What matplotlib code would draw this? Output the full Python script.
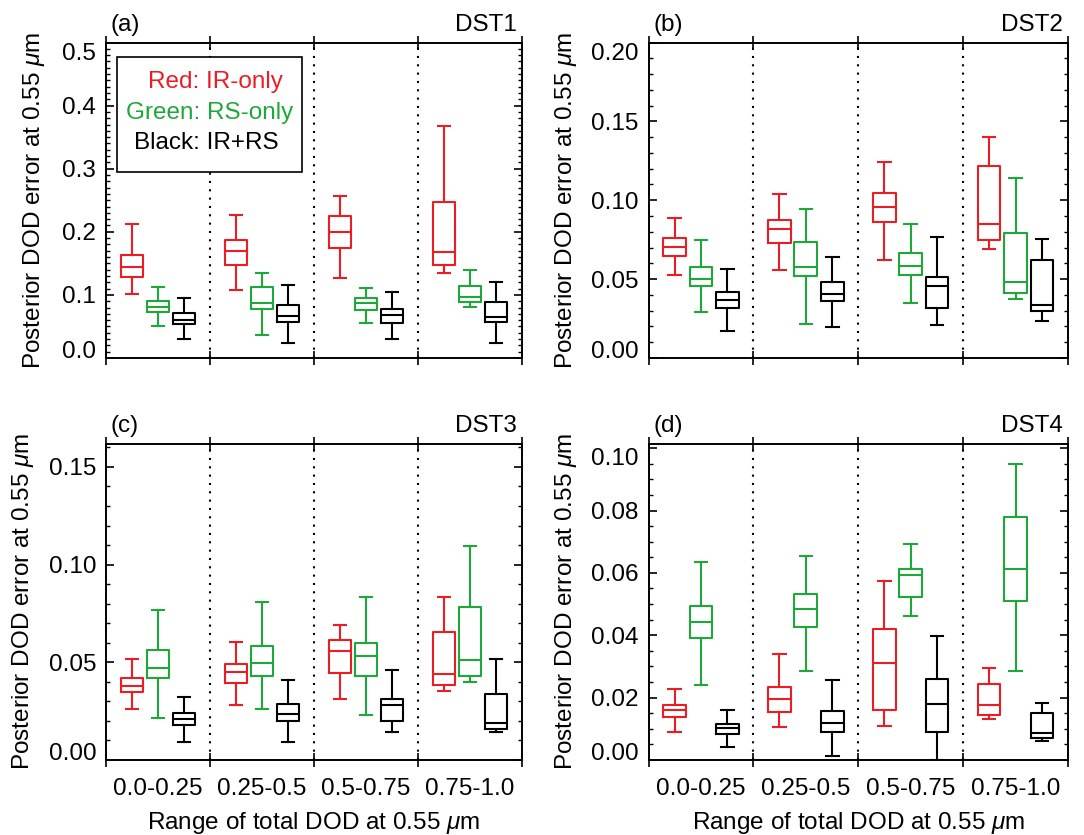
import numpy as np
import matplotlib
matplotlib.use('Agg')
import matplotlib.pyplot as plt
from matplotlib.patches import Rectangle
from matplotlib.ticker import MultipleLocator

plt.rcParams['font.family'] = ['Liberation Sans', 'DejaVu Sans']
plt.rcParams['mathtext.fontset'] = 'custom'
plt.rcParams['mathtext.rm'] = 'Liberation Sans'
plt.rcParams['mathtext.it'] = 'Liberation Sans:italic'

# bins of total DOD
binLabels = ['0.0-0.25', '0.25-0.5', '0.5-0.75', '0.75-1.0']

# each row is one bin: [whisker low, q1, median, q3, whisker high]
dst1_ir = [[0.102, 0.129, 0.144, 0.164, 0.212], [0.107, 0.148, 0.170, 0.187, 0.226],
           [0.126, 0.174, 0.200, 0.225, 0.256], [0.134, 0.147, 0.168, 0.248, 0.367]]
dst1_rs = [[0.051, 0.073, 0.081, 0.090, 0.113], [0.036, 0.078, 0.087, 0.113, 0.135],
           [0.055, 0.076, 0.087, 0.095, 0.111], [0.081, 0.088, 0.097, 0.114, 0.140]]
dst1_irrs = [[0.030, 0.054, 0.061, 0.071, 0.095], [0.023, 0.057, 0.0665, 0.0835, 0.115],
             [0.030, 0.055, 0.068, 0.077, 0.105], [0.023, 0.057, 0.065, 0.088, 0.120]]

dst2_ir = [[0.0523, 0.0646, 0.0703, 0.0762, 0.0886], [0.0555, 0.0732, 0.0819, 0.0876, 0.104],
           [0.0622, 0.0865, 0.0956, 0.1044, 0.1245], [0.069, 0.0747, 0.085, 0.1217, 0.140]]
dst2_rs = [[0.0293, 0.0458, 0.050, 0.0578, 0.0751], [0.0217, 0.0519, 0.058, 0.0736, 0.0945],
           [0.0346, 0.0527, 0.0586, 0.0665, 0.085], [0.0373, 0.0411, 0.0479, 0.0795, 0.114]]
dst2_irrs = [[0.0171, 0.0316, 0.0367, 0.0418, 0.0565], [0.0194, 0.0363, 0.0407, 0.0479, 0.0639],
             [0.0207, 0.0316, 0.0454, 0.0515, 0.0766], [0.0236, 0.0295, 0.0335, 0.062, 0.0753]]

dst3_ir = [[0.0261, 0.0346, 0.0381, 0.0419, 0.0517], [0.028, 0.0393, 0.0451, 0.049, 0.0605],
           [0.0312, 0.0447, 0.0556, 0.0612, 0.0692], [0.0354, 0.0383, 0.0442, 0.0654, 0.0834]]
dst3_rs = [[0.0214, 0.042, 0.0469, 0.0563, 0.0768], [0.0263, 0.0429, 0.0495, 0.0585, 0.081],
           [0.023, 0.0429, 0.0534, 0.060, 0.0834], [0.0398, 0.0432, 0.0512, 0.0785, 0.1093]]
dst3_irrs = [[0.0093, 0.0178, 0.021, 0.0239, 0.0324], [0.0093, 0.0202, 0.0237, 0.0288, 0.041],
             [0.0142, 0.020, 0.028, 0.0312, 0.0463], [0.0141, 0.0161, 0.0188, 0.0336, 0.0517]]

dst4_ir = [[0.0089, 0.0139, 0.0159, 0.0176, 0.0227], [0.0107, 0.0155, 0.0196, 0.0235, 0.0341],
           [0.0108, 0.016, 0.031, 0.042, 0.0574], [0.0132, 0.0144, 0.0175, 0.0245, 0.0295]]
dst4_rs = [[0.024, 0.039, 0.0442, 0.0494, 0.0636], [0.0286, 0.0425, 0.0484, 0.0532, 0.0655],
           [0.0462, 0.0523, 0.0593, 0.0611, 0.0692], [0.0286, 0.0509, 0.0611, 0.078, 0.095]]
dst4_irrs = [[0.0042, 0.0084, 0.0103, 0.0117, 0.0159], [0.0012, 0.009, 0.0119, 0.0157, 0.0256],
             [0.0, 0.009, 0.0181, 0.0259, 0.0399], [0.006, 0.007, 0.0088, 0.015, 0.0184]]

panelNames = ['DST1', 'DST2', 'DST3', 'DST4']
panelTags = ['(a)', '(b)', '(c)', '(d)']
panelData = [(dst1_ir, dst1_rs, dst1_irrs), (dst2_ir, dst2_rs, dst2_irrs),
             (dst3_ir, dst3_rs, dst3_irrs), (dst4_ir, dst4_rs, dst4_irrs)]
yTops = [0.5, 0.2, 0.162, 0.1015]
yMajor = [0.1, 0.05, 0.05, 0.02]
yMinor = [0.01, 0.01, 0.01, 0.005]
yFormat = ['%.1f', '%.2f', '%.2f', '%.2f']

RED = '#ec1c24'
GREEN = '#1fa83a'
colors = [RED, GREEN, 'black']
offsets = [-0.063, 0.0, 0.063]

W, H = 1084, 835
# axes boxes in pixels: left, right, top, bottom
boxes = [(106, 522, 42.5, 358), (648.5, 1068, 42.5, 358),
         (106, 522, 443.5, 760), (648.5, 1068, 443.5, 760)]
labelX = [-0.142, -0.165, -0.168, -0.165]

fig = plt.figure(figsize=(W / 100, H / 100), dpi=100)
FS = 17.5

for i in range(4):
    l, r, t, b = boxes[i]
    ax = fig.add_axes([l / W, 1 - b / H, (r - l) / W, (b - t) / H])

    # boxes for each retrieval type
    for k in range(3):
        stats = []
        for j, row in enumerate(panelData[i][k]):
            stats.append({'whislo': row[0], 'q1': row[1], 'med': row[2], 'q3': row[3],
                          'whishi': row[4], 'fliers': []})
        pos = [0.125 + 0.25 * j + offsets[k] for j in range(4)]
        lp = dict(color=colors[k], linewidth=1.5)
        ax.bxp(stats, positions=pos, widths=0.054, capwidths=0.03, showfliers=False,
               boxprops=lp, whiskerprops=lp, capprops=lp, medianprops=lp,
               manage_ticks=False)

    # dotted dividers between bins
    for xv in [0.25, 0.5, 0.75]:
        ax.axvline(xv, color='black', linewidth=1.5, linestyle=(0, (1, 3)), zorder=1)

    ax.set_xlim(0, 1)
    ax.set_ylim(0, yTops[i])

    # x axis: ticks at bin edges, labels at bin centres
    ax.set_xticks([0, 0.25, 0.5, 0.75, 1.0])
    ax.set_xticklabels([])
    ax.tick_params(axis='x', which='major', direction='inout', length=10, width=1.2,
                   top=True, bottom=True)
    ax.set_xticks([0.125, 0.375, 0.625, 0.875], minor=True)
    if i >= 2:
        ax.set_xticklabels(binLabels, minor=True, fontsize=FS)
        ax.set_xlabel('Range of total DOD at 0.55 $\\mu$m', fontsize=FS)
        ax.xaxis.set_label_coords(0.5, -0.158)
    else:
        ax.set_xticklabels([], minor=True)
    ax.tick_params(axis='x', which='minor', length=0, pad=13)

    # y axis: inward ticks both sides
    yt = np.arange(0, yTops[i] + 1e-9, yMajor[i])
    ax.set_yticks(yt)
    ax.set_yticklabels([yFormat[i] % v for v in yt], fontsize=FS)
    ax.yaxis.set_minor_locator(MultipleLocator(yMinor[i]))
    ax.tick_params(axis='y', which='major', direction='in', length=6, width=1.2,
                   left=True, right=True, pad=7)
    ax.tick_params(axis='y', which='minor', direction='in', length=3, width=1.0,
                   left=True, right=True)
    labs = ax.get_yticklabels()
    labs[0].set_va('baseline')
    if abs(yt[-1] - yTops[i]) < 0.002:
        labs[-1].set_va('top')

    ax.set_ylabel('Posterior DOD error at 0.55 $\\mu$m', fontsize=FS)
    ax.yaxis.set_label_coords(labelX[i], 0.5)

    for sp in ax.spines.values():
        sp.set_linewidth(1.4)

    ax.text(0.012, 1.036, panelTags[i], transform=ax.transAxes, fontsize=FS,
            ha='left', va='baseline')
    ax.text(0.988, 1.036, panelNames[i], transform=ax.transAxes, fontsize=FS,
            ha='right', va='baseline')

    if i == 0:
        ax.add_patch(Rectangle((0.026, 0.590), 0.445, 0.364, transform=ax.transAxes,
                               facecolor='white', edgecolor='black', linewidth=1.2, zorder=3))
        ax.text(0.262, 0.875, 'Red: IR-only', color=RED, transform=ax.transAxes,
                fontsize=FS, ha='center', va='center', zorder=4)
        ax.text(0.249, 0.777, 'Green: RS-only', color=GREEN, transform=ax.transAxes,
                fontsize=FS, ha='center', va='center', zorder=4)
        ax.text(0.240, 0.681, 'Black: IR+RS', color='black', transform=ax.transAxes,
                fontsize=FS, ha='center', va='center', zorder=4)

plt.savefig('out.png', dpi=100)
plt.close()
